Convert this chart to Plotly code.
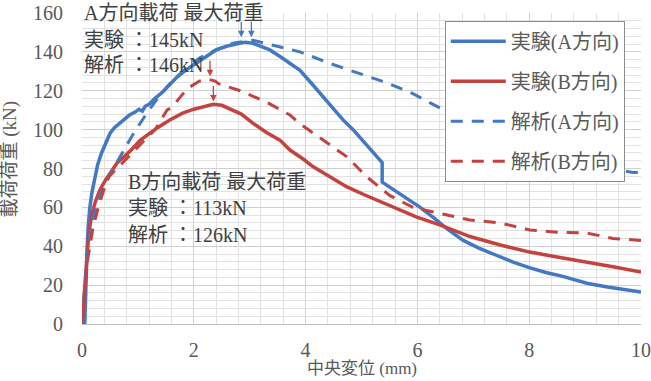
import plotly.graph_objects as go

# ---- data ----
expA_x = [0.05, 0.06, 0.07, 0.09, 0.11, 0.14, 0.18, 0.23, 0.28, 0.35, 0.42, 0.5, 0.58, 0.66, 0.75, 0.85,
          0.95, 1.02, 1.08, 1.13, 1.2, 1.3, 1.43, 1.55, 1.7, 1.85, 2.0, 2.2, 2.4, 2.6, 2.8, 2.92,
          3.05, 3.2, 3.36, 3.55, 3.75, 3.9, 4.1, 4.3, 4.5, 4.67, 4.85, 5.0, 5.2, 5.37, 5.37, 5.6,
          5.85, 6.05, 6.3, 6.55, 6.82, 7.1, 7.4, 7.7, 8.0, 8.3, 8.6, 9.03, 9.4, 9.7, 10.0]
expA_y = [0, 12, 25, 38, 50, 60, 68, 76, 82, 88, 93, 98, 101, 103, 105, 107.5,
          109, 110.5, 109.5, 112, 113, 116, 119, 122.5, 127, 130.5, 133.5, 137.5, 141, 143, 144.5, 145,
          144.5, 143, 141, 137.5, 133.5, 130.5, 124, 117.5, 111, 105, 100, 95, 89, 83, 73, 68.5,
          64, 60, 54.5, 48.5, 43, 39, 35.5, 32, 29, 26.5, 24.5, 21, 19, 17.8, 16.5]

expB_x = [0.0, 0.02, 0.04, 0.05, 0.07, 0.09, 0.12, 0.15, 0.19, 0.24, 0.32, 0.42, 0.52, 0.63, 0.75,
          0.88, 1.04, 1.2, 1.35, 1.57, 1.8, 2.0, 2.2, 2.35, 2.5, 2.7, 2.85, 3.05, 3.3, 3.54,
          3.72, 3.95, 4.13, 4.45, 4.74, 5.05, 5.33, 5.65, 5.99, 6.4, 6.94, 7.5, 8.01, 8.5,
          9.03, 9.5, 10.0]
expB_y = [0, 8, 16, 22, 30, 38, 46, 52, 58, 63, 69, 74, 78, 83, 86,
          89.5, 94.5, 98, 101, 105, 108.5, 110.5, 112, 113, 112.5, 110, 108, 103.5, 98.5, 94.6,
          89.5, 85, 81, 75.5, 70.5, 66.5, 63, 59, 55, 51, 45, 40.5, 37, 34.5,
          32, 29.5, 26.7]

anaA_x = [0.0, 0.05, 0.1, 0.2, 0.35, 0.54, 0.68, 0.9, 1.16, 1.4, 1.63, 1.88, 2.11, 2.4, 2.7,
          3.06, 3.4, 3.9, 4.44, 4.97, 5.46, 5.92, 6.4, 7.0, 7.6, 8.2, 8.8, 9.4, 9.86, 10.0]
anaA_y = [0, 20, 38, 55, 68, 79, 86, 97, 108.5, 118, 125.5, 132, 137, 141, 144.5,
          146, 143.5, 140, 134, 129, 124, 118.5, 111, 102, 94, 88, 83.5, 80, 78, 78]

anaB_x = [0.0, 0.05, 0.1, 0.2, 0.32, 0.47, 0.7, 0.9, 1.1, 1.31, 1.52, 1.61, 1.88, 2.1, 2.25,
          2.38, 2.45, 2.83, 3.31, 3.72, 3.9, 4.31, 4.74, 5.1, 5.51, 5.92, 6.4, 6.94, 7.48,
          8.01, 8.5, 9.03, 9.5, 10.0]
anaB_y = [0, 18, 33, 50, 63, 75.5, 82, 88, 94, 100, 110, 111.6, 121, 125, 126,
          125, 123.5, 120, 114, 107.5, 103, 94.6, 86, 75.6, 66, 60, 57, 53.5, 52,
          48.4, 47.2, 46.8, 44, 43]

names = ["実験(A方向)", "実験(B方向)", "解析(A方向)", "解析(B方向)"]
x_title = "中央変位 (mm)"
y_title = "載荷荷重 (kN)"

x_ticks = [0, 2, 4, 6, 8, 10]
y_ticks = [0, 20, 40, 60, 80, 100, 120, 140, 160]

BLUE = "#4279c2"
RED = "#c4433f"
TXT = "#595959"
FONT = "Liberation Serif, Noto Sans CJK JP"

fig = go.Figure()
series = [
    (expA_x, expA_y, names[0], BLUE, "solid", 3.5),
    (expB_x, expB_y, names[1], RED, "solid", 3.5),
    (anaA_x, anaA_y, names[2], BLUE, "12px,9px", 3),
    (anaB_x, anaB_y, names[3], RED, "12px,9px", 3),
]
for i, (xs, ys, nm, col, dash, w) in enumerate(series):
    fig.add_trace(go.Scatter(
        x=xs, y=ys, mode="lines", name=nm, legendgroup=f"g{i}",
        line=dict(color=col, width=w, dash=dash), line_shape="linear"))

ann_font = dict(family=FONT, size=20, color="#404040")
texts = [
    (0.0, 160, "A方向載荷 最大荷重"),
    (0.0, 146, "実験 ：145kN"),
    (0.0, 133, "解析 ：146kN"),
    (0.78, 73, "B方向載荷 最大荷重"),
    (0.78, 59.7, "実験 ：113kN"),
    (0.78, 45.8, "解析 ：126kN"),
]
for (ax_, ay_, t) in texts:
    fig.add_annotation(x=ax_, y=ay_, xref="x", yref="y", text=t, showarrow=False,
                       xanchor="left", yanchor="middle", font=ann_font)

arrows = [
    (2.85, 147.5, BLUE),
    (3.03, 147.5, BLUE),
    (2.29, 127.5, RED),
    (2.35, 114.5, RED),
]
for (px, py, col) in arrows:
    fig.add_annotation(x=px, y=py, xref="x", yref="y", ax=0, ay=-17, showarrow=True,
                       arrowhead=2, arrowsize=1, arrowwidth=1.3, arrowcolor=col, text="")

# axis titles
fig.add_annotation(x=0.5, y=1.0, xref="paper", yref="paper", text=x_title, showarrow=False,
                   xanchor="center", yanchor="bottom", yshift=-367,
                   font=dict(family=FONT, size=17, color=TXT))
fig.add_annotation(x=-0.128, y=0.53, xref="paper", yref="paper", text=y_title, showarrow=False,
                   textangle=-90, xanchor="center", yanchor="middle",
                   font=dict(family=FONT, size=19, color=TXT))

fig.update_layout(
    width=651, height=381,
    margin=dict(l=82, r=10, t=13, b=57),
    paper_bgcolor="white", plot_bgcolor="white",
    font=dict(family=FONT, size=20, color=TXT),
    showlegend=True,
    legend=dict(x=0.649, y=0.975, xanchor="left", yanchor="top",
                bgcolor="white", bordercolor="#8c8c8c", borderwidth=1,
                font=dict(family=FONT, size=20, color=TXT),
                tracegroupgap=11, itemwidth=55),
)
fig.update_xaxes(
    range=[0, 10], tickmode="array", tickvals=x_ticks, ticktext=[str(v) for v in x_ticks],
    showgrid=True, gridcolor="#d0d0d0", gridwidth=1,
    minor=dict(dtick=0.4, tick0=0, showgrid=True, gridcolor="#e2e2e2", gridwidth=1),
    zeroline=False, showline=True, linecolor="#bfbfbf", linewidth=1,
    ticks="", ticklabelstandoff=8, automargin=False,
    tickfont=dict(family=FONT, size=20, color=TXT),
)
fig.update_yaxes(
    range=[0, 160], tickmode="array", tickvals=y_ticks, ticktext=[str(v) for v in y_ticks],
    showgrid=True, gridcolor="#d0d0d0", gridwidth=1,
    minor=dict(dtick=4, tick0=0, showgrid=True, gridcolor="#e2e2e2", gridwidth=1),
    zeroline=False, showline=False,
    ticks="", ticklabelstandoff=18, automargin=False,
    tickfont=dict(family=FONT, size=20, color=TXT),
)

fig.write_html("out.html")
